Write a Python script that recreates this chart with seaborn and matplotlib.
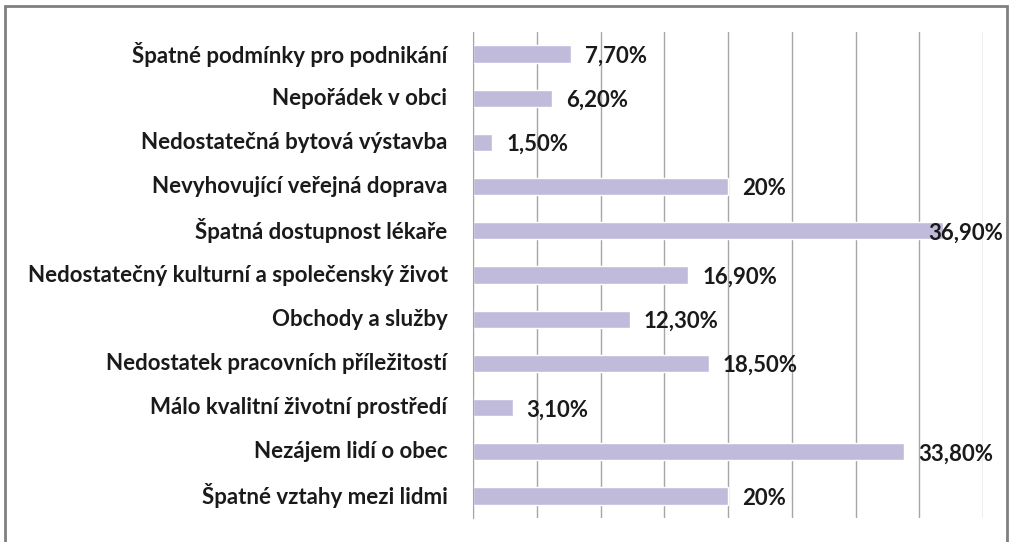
import matplotlib
matplotlib.use('Agg')
import matplotlib.pyplot as plt
import pandas as pd
import seaborn as sns
from matplotlib.patches import Rectangle

categories = [
    'Špatné podmínky pro podnikání',
    'Nepořádek v obci',
    'Nedostatečná bytová výstavba',
    'Nevyhovující veřejná doprava',
    'Špatná dostupnost lékaře',
    'Nedostatečný kulturní a společenský život',
    'Obchody a služby',
    'Nedostatek pracovních příležitostí',
    'Málo kvalitní životní prostředí',
    'Nezájem lidí o obec',
    'Špatné vztahy mezi lidmi',
]
values = [7.7, 6.2, 1.5, 20, 36.9, 16.9, 12.3, 18.5, 3.1, 33.8, 20]
value_labels = ['7,70%', '6,20%', '1,50%', '20%', '36,90%', '16,90%',
                '12,30%', '18,50%', '3,10%', '33,80%', '20%']

df = pd.DataFrame({'kategorie': categories, 'podil': values})

sns.set_style('white')
plt.rcParams['font.family'] = ['Lato', 'DejaVu Sans']

fig = plt.figure(figsize=(10.11, 5.42), dpi=100)
ax = fig.add_axes([473 / 1011, 1 - 518 / 542, 510 / 1011, 486 / 542])

sns.barplot(data=df, x='podil', y='kategorie', color='#C0BBDA', width=0.39,
            saturation=1, ax=ax)

ax.set_xlim(0, 40)
ax.set_xticks(range(0, 41, 5))
ax.set_xticklabels([])
ax.tick_params(axis='x', length=0)
ax.grid(axis='x', color='#A6A6A6', linewidth=1)
ax.set_axisbelow(True)
ax.set_xlabel('')
ax.set_ylabel('')

for side in ['top', 'right', 'bottom']:
    ax.spines[side].set_visible(False)
ax.spines['left'].set_color('#A6A6A6')

# tick marks between categories, labels centred on bars
ax.set_yticks([i - 0.5 for i in range(len(categories) + 1)], minor=False)
ax.set_yticklabels([])
ax.tick_params(axis='y', length=5, color='#A6A6A6', direction='out')
for i, name in enumerate(categories):
    ax.text(-0.05, i, name, transform=ax.get_yaxis_transform(), ha='right',
            va='center', fontsize=16, fontweight='bold', color='#1a1a1a')
ax.set_ylim(len(categories) - 0.5, -0.5)

for i, (v, lab) in enumerate(zip(values, value_labels)):
    x = min(v + 1.1, 35.7)
    ax.text(x, i + 0.05, lab, ha='left', va='center', fontsize=16,
            fontweight='bold', color='#1a1a1a')

fig.patches.append(Rectangle((5 / 1011, -0.05), 1002 / 1011, 1.05 - 6 / 542,
                             transform=fig.transFigure, fill=False,
                             edgecolor='#808080', linewidth=2))

fig.savefig('out.png', dpi=100)
